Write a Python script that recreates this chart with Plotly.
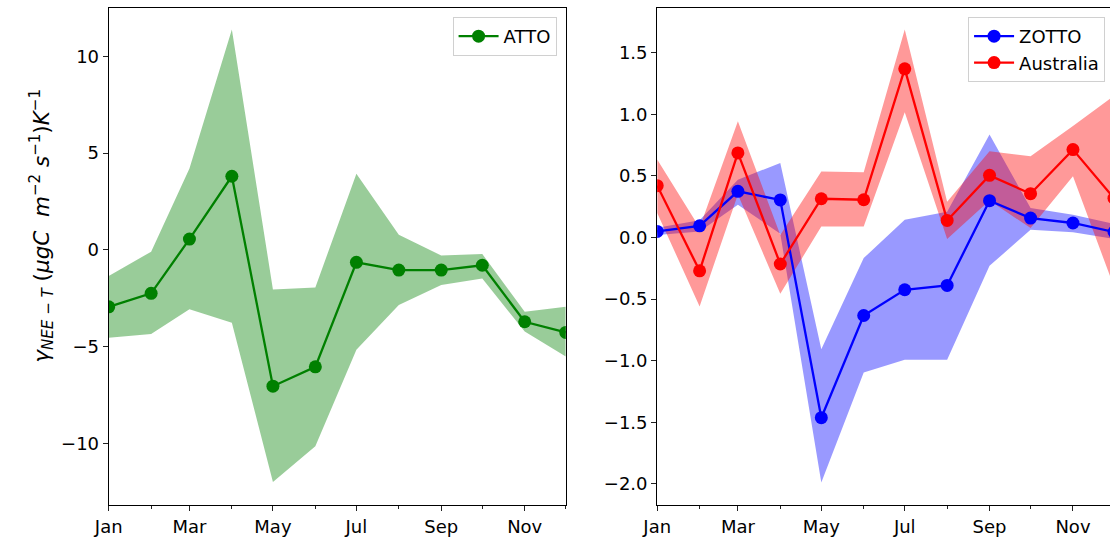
import plotly.graph_objects as go

# Monthly sensitivity of NEE to temperature with uncertainty ranges
months = ["2001-01-01", "2001-02-01", "2001-03-01", "2001-04-01", "2001-05-01", "2001-06-01",
          "2001-07-01", "2001-08-01", "2001-09-01", "2001-10-01", "2001-11-01", "2001-12-01"]

atto = [-2.95, -2.25, 0.55, 3.8, -7.05, -6.05, -0.65, -1.05, -1.05, -0.8, -3.72, -4.27]
atto_hi = [-1.35, -0.1, 4.2, 11.38, -2.05, -1.95, 3.93, 0.78, -0.3, -0.22, -3.2, -2.94]
atto_lo = [-4.55, -4.35, -3.08, -3.77, -12.0, -10.15, -5.17, -2.85, -1.82, -1.48, -4.23, -5.52]

zotto = [0.05, 0.095, 0.375, 0.305, -1.463, -0.633, -0.424, -0.389, 0.299, 0.158, 0.118, 0.045]
zotto_hi = [0.08, 0.14, 0.47, 0.606, -0.907, -0.167, 0.145, 0.21, 0.836, 0.24, 0.185, 0.11]
zotto_lo = [0.02, 0.05, 0.267, 0.03, -1.99, -1.097, -0.993, -0.993, -0.23, 0.063, 0.042, -0.01]

austr = [0.421, -0.27, 0.687, -0.215, 0.315, 0.307, 1.37, 0.139, 0.505, 0.356, 0.714, 0.32]
austr_hi = [0.633, 0.08, 0.944, 0.02, 0.537, 0.53, 1.69, 0.29, 0.70, 0.66, 0.906, 1.15]
austr_lo = [0.2, -0.56, 0.35, -0.457, 0.09, 0.09, 1.017, -0.012, 0.3, 0.077, 0.497, -0.4]

W, H = 1110, 538
FONT = "DejaVu Sans, Liberation Sans, sans-serif"
FS = 18


def band(x, lo, hi, rgba, xa, ya):
    return go.Scatter(x=list(x) + list(x)[::-1], y=list(hi) + list(lo)[::-1],
                      fill="toself", fillcolor=rgba, line=dict(width=0),
                      mode="lines", hoverinfo="skip", showlegend=False,
                      xaxis=xa, yaxis=ya)


def series(x, y, color, name, xa, ya, legend):
    return go.Scatter(x=x, y=y, mode="lines+markers", name=name,
                      line=dict(color=color, width=2.3),
                      marker=dict(color=color, size=13),
                      xaxis=xa, yaxis=ya, legend=legend)


fig = go.Figure()
fig.add_trace(band(months, atto_lo, atto_hi, "rgba(0,128,0,0.4)", "x", "y"))
fig.add_trace(series(months, atto, "green", "ATTO", "x", "y", "legend"))

fig.add_trace(band(months, zotto_lo, zotto_hi, "rgba(0,0,255,0.4)", "x2", "y2"))
fig.add_trace(band(months, austr_lo, austr_hi, "rgba(255,0,0,0.4)", "x2", "y2"))
fig.add_trace(series(months, zotto, "blue", "ZOTTO", "x2", "y2", "legend2"))
fig.add_trace(series(months, austr, "red", "Australia", "x2", "y2", "legend2"))

y0 = (H - 505) / H
y1 = (H - 7.5) / H

xcommon = dict(type="date", tickformat="%b", dtick="M2", tick0="2001-01-01",
               ticks="outside", ticklen=5, tickwidth=1.1, tickcolor="#222",
               showline=True, linecolor="black", linewidth=1.1, mirror=True,
               showgrid=False, zeroline=False,
               minor=dict(dtick="M1", tick0="2001-01-01", ticks="outside",
                          ticklen=3, tickwidth=1, tickcolor="#222", showgrid=False),
               tickfont=dict(family=FONT, size=FS, color="black"))
ycommon = dict(ticks="outside", ticklen=5, tickwidth=1.1, tickcolor="#222",
               showline=True, linecolor="black", linewidth=1.1,
               showgrid=False, zeroline=False,
               tickfont=dict(family=FONT, size=FS, color="black"))

legend_style = dict(xanchor="right", yanchor="top",
                    bgcolor="rgba(255,255,255,0.8)", bordercolor="#d0d0d0", borderwidth=1,
                    font=dict(family=FONT, size=FS), itemwidth=40,
                    tracegroupgap=4)

fig.update_layout(
    width=W, height=H,
    margin=dict(l=0, r=0, t=0, b=0),
    paper_bgcolor="white", plot_bgcolor="white",
    font=dict(family=FONT, size=FS, color="black"),
    xaxis=dict(xcommon, domain=[95 / W, 558.3 / W], range=["2001-01-01", "2001-12-01"],
               anchor="y"),
    yaxis=dict(ycommon, domain=[y0, y1], range=[-13.19, 12.52], tickvals=[-10, -5, 0, 5, 10],
               mirror=True, anchor="x"),
    xaxis2=dict(xcommon, domain=[651 / W, 1.0], range=["2001-01-01", "2001-11-28 02:00"],
                anchor="y2"),
    yaxis2=dict(ycommon, domain=[y0, y1], range=[-2.172, 1.868],
                tickvals=[-2.0, -1.5, -1.0, -0.5, 0.0, 0.5, 1.0, 1.5], tickformat=".1f",
                mirror=False, anchor="x2"),
    legend=dict(legend_style, x=549 / W, y=(H - 17) / H, entrywidth=82),
    legend2=dict(legend_style, x=1105 / W, y=(H - 17) / H),
    showlegend=True,
)

fig.add_annotation(
    text="<i>γ</i><sub><i>NEE − T</i></sub> (<i>μgC</i>&nbsp;&nbsp;<i>m</i><sup>−2</sup> "
         "<i>s</i><sup>−1</sup>)<i>K</i><sup>−1</sup>",
    xref="paper", yref="paper", x=27 / W, y=(H - 226) / H,
    xanchor="center", yanchor="middle", textangle=-90, showarrow=False,
    font=dict(family=FONT, size=21.5, color="black"),
)

fig.write_html("out.html")
